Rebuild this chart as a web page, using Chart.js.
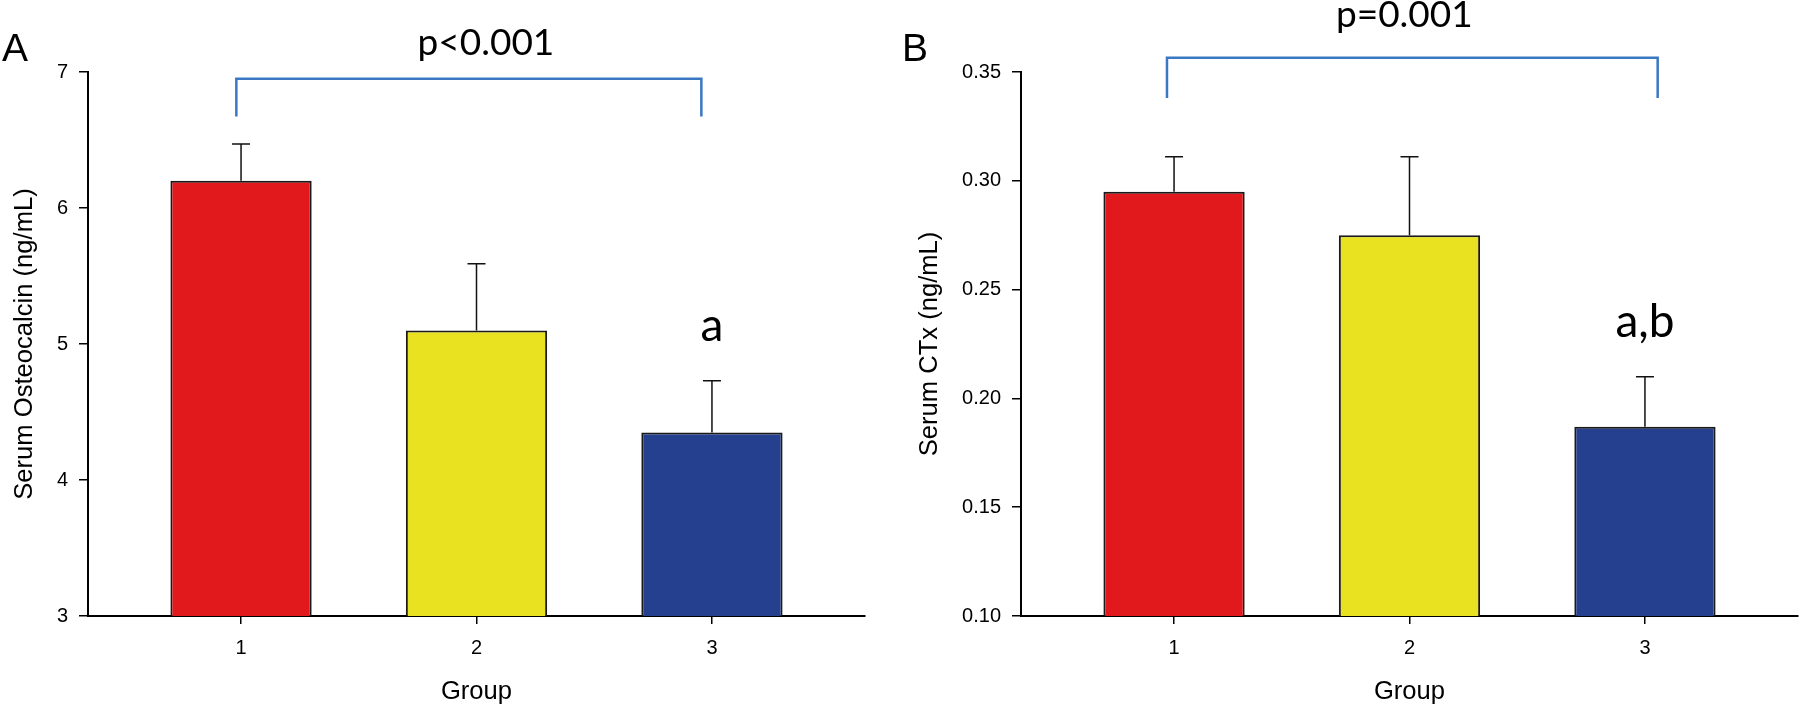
<!DOCTYPE html>
<html>
<head>
<meta charset="utf-8">
<script src="https://cdn.jsdelivr.net/npm/chart.js@4.4.1/dist/chart.umd.min.js"></script>
<style>
  html, body { margin: 0; padding: 0; background: #fff; }
  #wrap { position: relative; width: 1800px; height: 707px; }
  canvas { position: absolute; top: 0; }
  #chartA { left: 0; }
  #chartB { left: 900px; }
</style>
</head>
<body>
<div id="wrap">
  <canvas id="chartA" width="900" height="707"></canvas>
  <canvas id="chartB" width="900" height="707"></canvas>
</div>
<script>
// data
const groups = ['1', '2', '3'];
const groupPositions = [1, 2, 3];
const osteocalcin = [6.20, 5.10, 4.35];
const osteocalcinSE = [0.27, 0.49, 0.38];
const ctxLevels = [0.295, 0.275, 0.187];
const ctxSE = [0.016, 0.036, 0.023];
const osteocalcinTicks = [3, 4, 5, 6, 7];
const ctxTicks = [0.10, 0.15, 0.20, 0.25, 0.30, 0.35];

const barColors = ['#e2191c', '#e8e220', '#25408f'];
const axisFont = 'Liberation Sans';

// error bars (upper whisker only)
function errorBarPlugin(errors) {
    return {
        id: 'errorBars',
        afterDatasetsDraw(chart) {
            const meta = chart.getDatasetMeta(0);
            const yScale = chart.scales.y;
            const c = chart.ctx;
            c.save();
            c.strokeStyle = '#111';
            c.lineWidth = 1.5;
            meta.data.forEach((bar, i) => {
                const value = chart.data.datasets[0].data[i].y;
                const top = yScale.getPixelForValue(value + errors[i]);
                c.beginPath();
                c.moveTo(bar.x, bar.y);
                c.lineTo(bar.x, top);
                c.moveTo(bar.x - 9, top);
                c.lineTo(bar.x + 9, top);
                c.stroke();
            });
            c.restore();
        }
    };
}

// bracket, p value, letters, panel label
function annotationPlugin(cfg) {
    return {
        id: 'annotations',
        afterDraw(chart) {
            const { x, y } = chart.scales;
            const c = chart.ctx;
            c.save();
            const x0 = x.getPixelForValue(cfg.bracket[0]);
            const x1 = x.getPixelForValue(cfg.bracket[1]);
            const yTop = y.getPixelForValue(cfg.bracket[2]);
            const yFoot = y.getPixelForValue(cfg.bracket[3]);
            c.strokeStyle = '#3b78c3';
            c.lineWidth = 2.5;
            c.beginPath();
            c.moveTo(x0, yFoot);
            c.lineTo(x0, yTop);
            c.lineTo(x1, yTop);
            c.lineTo(x1, yFoot);
            c.stroke();

            c.fillStyle = '#000';
            c.textAlign = 'center';
            c.textBaseline = 'alphabetic';
            c.font = '37px Lato';
            c.fillText(cfg.pText, x.getPixelForValue(cfg.pAt[0]), y.getPixelForValue(cfg.pAt[1]));
            c.font = '46px Lato';
            c.fillText(cfg.letter, x.getPixelForValue(3), y.getPixelForValue(cfg.letterAt));

            c.textAlign = 'left';
            c.font = '39px "Liberation Sans"';
            c.fillText(cfg.panel, 2, 61);
            c.restore();
        }
    };
}

function makePanel(id, values, errors, ticks, yTitle, fmt, axisWidth, titlePad, padRight, cfg) {
    return new Chart(document.getElementById(id), {
        type: 'bar',
        data: {
            datasets: [{
                data: values.map((v, i) => ({ x: groupPositions[i], y: v })),
                backgroundColor: barColors,
                borderColor: '#1a1a1a',
                borderWidth: 2,
                borderSkipped: false,
                barPercentage: 0.6,
                categoryPercentage: 1
            }]
        },
        options: {
            responsive: false,
            animation: false,
            layout: { padding: { top: 72, right: padRight, left: 0, bottom: 0 } },
            plugins: { legend: { display: false }, tooltip: { enabled: false } },
            scales: {
                x: {
                    type: 'linear',
                    min: 0.35,
                    max: 3.65,
                    offset: false,
                    afterBuildTicks: s => { s.ticks = groupPositions.map(v => ({ value: v })); },
                    ticks: {
                        callback: (v, i) => groups[i],
                        font: { family: axisFont, size: 20 },
                        color: '#000',
                        padding: 12
                    },
                    grid: { drawOnChartArea: false, offset: false, tickLength: 8, color: '#000', lineWidth: 1.5 },
                    border: { color: '#000', width: 2 },
                    title: {
                        display: true, text: 'Group', color: '#000',
                        font: { family: axisFont, size: 25.6 },
                        padding: { top: 0, bottom: 0 }
                    },
                    afterFit: s => { s.height = 91; }
                },
                y: {
                    type: 'linear',
                    min: ticks[0],
                    max: ticks[ticks.length - 1],
                    beginAtZero: false,
                    afterBuildTicks: s => { s.ticks = ticks.map(v => ({ value: v })); },
                    ticks: {
                        callback: fmt,
                        font: { family: axisFont, size: 20 },
                        color: '#000',
                        padding: 11
                    },
                    grid: { drawOnChartArea: false, tickLength: 9, color: '#000', lineWidth: 1.5 },
                    border: { color: '#000', width: 2 },
                    title: {
                        display: true, text: yTitle, color: '#000',
                        font: { family: axisFont, size: 25.6 },
                        padding: { top: titlePad, bottom: 0 }
                    },
                    afterFit: s => { s.width = axisWidth; }
                }
            }
        },
        plugins: [errorBarPlugin(errors), annotationPlugin(cfg)]
    });
}

makePanel('chartA', osteocalcin, osteocalcinSE, osteocalcinTicks,
    'Serum Osteocalcin (ng/mL)', v => String(v), 88, 10, 35,
    { bracket: [0.98, 2.955, 6.95, 6.672], pText: 'p<0.001', pAt: [2.04, 7.123],
      letter: 'a', letterAt: 5.02, panel: 'A' });

makePanel('chartB', ctxLevels, ctxSE, ctxTicks,
    'Serum CTx (ng/mL)', v => v.toFixed(2), 121, 15, 2,
    { bracket: [0.97, 3.054, 0.3566, 0.338], pText: 'p=0.001', pAt: [1.978, 0.3705],
      letter: 'a,b', letterAt: 0.2282, panel: 'B' });
</script>
</body>
</html>
